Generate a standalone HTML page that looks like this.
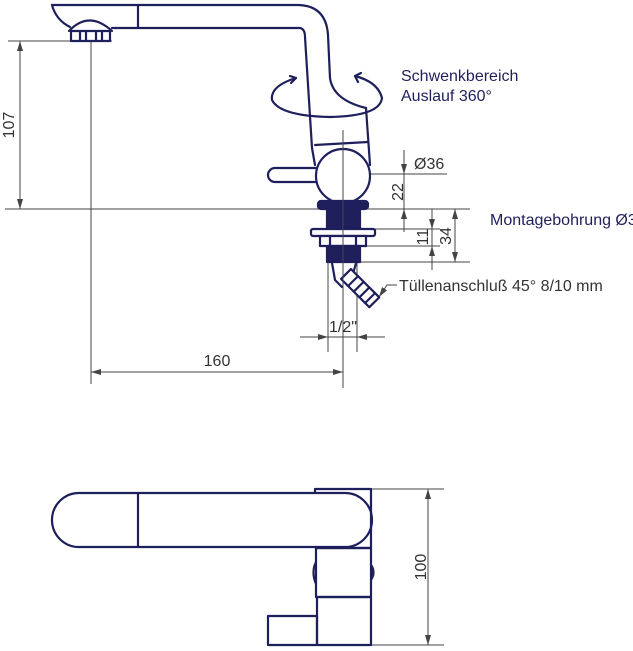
<!DOCTYPE html>
<html><head><meta charset="utf-8"><style>
html,body{margin:0;padding:0;background:#fff;width:633px;height:651px;overflow:hidden}
svg{display:block}
text{font-family:"Liberation Sans",sans-serif;fill:#333}
</style></head><body>
<svg width="633" height="651" viewBox="0 0 633 651" xmlns="http://www.w3.org/2000/svg">
<defs>
<marker id="a" viewBox="0 0 10 6" refX="10" refY="3" markerWidth="10" markerHeight="6" orient="auto-start-reverse" markerUnits="userSpaceOnUse"><path d="M0,0 L10,3 L0,6z" fill="#444"/></marker>
</defs>
<g stroke="#444" stroke-width="1" fill="none">
<line x1="8" y1="41" x2="112" y2="41"/>
<line x1="5" y1="209" x2="470" y2="209"/>
<line x1="91" y1="41" x2="91" y2="384"/>
<line x1="370" y1="174" x2="447" y2="174"/>
<line x1="360" y1="229" x2="440" y2="229"/>
<line x1="330" y1="246" x2="440" y2="246"/>
<line x1="360" y1="262" x2="470" y2="262"/>
<line x1="328" y1="262" x2="328" y2="352"/>
<line x1="357" y1="262" x2="357" y2="352"/>
<line x1="20" y1="41" x2="20" y2="209" marker-start="url(#a)" marker-end="url(#a)"/>
<line x1="91" y1="372" x2="343" y2="372" marker-start="url(#a)" marker-end="url(#a)"/>
<line x1="404" y1="150" x2="404" y2="174" marker-end="url(#a)"/>
<line x1="404" y1="174" x2="404" y2="232"/>
<line x1="404" y1="232" x2="404" y2="209" marker-end="url(#a)"/>
<line x1="432" y1="209" x2="432" y2="270"/>
<line x1="432" y1="209" x2="432" y2="229" marker-end="url(#a)"/>
<line x1="432" y1="270" x2="432" y2="246" marker-end="url(#a)"/>
<line x1="455" y1="209" x2="455" y2="262" marker-start="url(#a)" marker-end="url(#a)"/>
<line x1="300" y1="337" x2="328" y2="337" marker-end="url(#a)"/>
<line x1="385" y1="337" x2="357" y2="337" marker-end="url(#a)"/>
<line x1="328" y1="337" x2="357" y2="337"/>
<line x1="318" y1="174" x2="343" y2="174" marker-start="url(#a)"/>
<line x1="343" y1="174" x2="368" y2="174" marker-end="url(#a)"/>
<path d="M397,285 L387,285 L379,297" marker-end="url(#a)"/>
<line x1="371" y1="489" x2="444" y2="489"/>
<line x1="371" y1="645" x2="444" y2="645"/>
<line x1="428" y1="489" x2="428" y2="645" marker-start="url(#a)" marker-end="url(#a)"/>
</g>
<g stroke="#1f1f5c" stroke-width="2.2" fill="none" stroke-linecap="round" stroke-linejoin="round">
<path d="M52,5 L297,5 Q326,5 328,35 L330,78 Q333,100 366,108"/>
<path d="M52,5 Q56,20 70,27"/>
<path d="M112,28 L300,28 Q305,29 305,37 L312,148"/>
<line x1="138" y1="5" x2="138" y2="28"/>
<path d="M69,31 Q89,10 112,31"/>
<rect x="71" y="31" width="39" height="10" fill="#fff"/>
<line x1="80" y1="32" x2="80" y2="40"/><line x1="86" y1="32" x2="86" y2="40"/><line x1="96" y1="32" x2="96" y2="40"/><line x1="102" y1="32" x2="102" y2="40"/>
<line x1="366" y1="108" x2="370" y2="165"/>
<line x1="315" y1="145" x2="368" y2="142"/>
<line x1="312" y1="148" x2="315" y2="165"/>
<circle cx="343" cy="176" r="27" fill="#fff"/>
<path d="M316,168 L275,168 A7,7 0 0 0 275,182 L316,182"/>
<path d="M296,78 Q270,86 272,100 Q280,116 330,117 Q380,116 382,98 Q378,82 355,76"/>
<path d="M296,78 l-6,-2 M296,78 l-5,5" />
<path d="M355,76 l6,-3 M355,76 l3,6"/>
<rect x="318" y="201" width="50" height="8" rx="3" fill="#1f1f5c"/>
<rect x="327" y="208" width="33" height="20" fill="#1f1f5c"/>
<rect x="311" y="229" width="64" height="7" rx="2" fill="#fff"/>
<rect x="320" y="236" width="46" height="10" fill="#fff"/>
<line x1="330" y1="236" x2="330" y2="246"/><line x1="356" y1="236" x2="356" y2="246"/>
<rect x="327" y="246" width="33" height="16" fill="#1f1f5c"/>
<path d="M332,263 L335,280 L342,287 M356,263 L353,274"/>
<g transform="rotate(-45 346 274)">
<rect x="339" y="274" width="14" height="40" fill="#fff"/>
<line x1="339" y1="284" x2="353" y2="284"/><line x1="339" y1="292" x2="353" y2="292"/><line x1="339" y1="300" x2="353" y2="300"/><line x1="339" y1="308" x2="353" y2="308"/>
</g>
<path d="M79,493 L345,493 A27,27 0 0 1 345,547 L79,547 A27,27 0 0 1 79,493Z"/>
<line x1="138" y1="493" x2="138" y2="547"/>
<path d="M315,493 L315,489 L371,489 L371,548 L316,548"/>
<rect x="316" y="548" width="55" height="49"/>
<rect x="317" y="597" width="54" height="48"/>
<rect x="268" y="616" width="49" height="29"/>
<path d="M316,562 Q311,572 316,584"/>
<path d="M371,565 Q376,572 371,580" fill="#1f1f5c"/>
</g>
<line x1="343" y1="130" x2="343" y2="388" stroke="#444" stroke-width="1"/>
<text x="14" y="125" font-size="16" transform="rotate(-90 14 125)" text-anchor="middle">107</text>
<text x="217" y="366" font-size="16" text-anchor="middle">160</text>
<text x="401" y="81" font-size="16" style="fill:#1f1f5c">Schwenkbereich</text>
<text x="401" y="101" font-size="16" style="fill:#1f1f5c">Auslauf 360°</text>
<text x="414" y="169" font-size="16">Ø36</text>
<text x="403" y="192" font-size="16" transform="rotate(-90 403 192)" text-anchor="middle">22</text>
<text x="428" y="237" font-size="16" transform="rotate(-90 428 237)" text-anchor="middle">11</text>
<text x="451" y="236" font-size="16" transform="rotate(-90 451 236)" text-anchor="middle">34</text>
<text x="490" y="225" font-size="16" style="fill:#1f1f5c">Montagebohrung Ø35</text>
<text x="399" y="291" font-size="16">Tüllenanschluß 45° 8/10 mm</text>
<text x="343" y="332" font-size="16" text-anchor="middle">1/2"</text>
<text x="426" y="567" font-size="16" transform="rotate(-90 426 567)" text-anchor="middle">100</text>
</svg>
</body></html>
